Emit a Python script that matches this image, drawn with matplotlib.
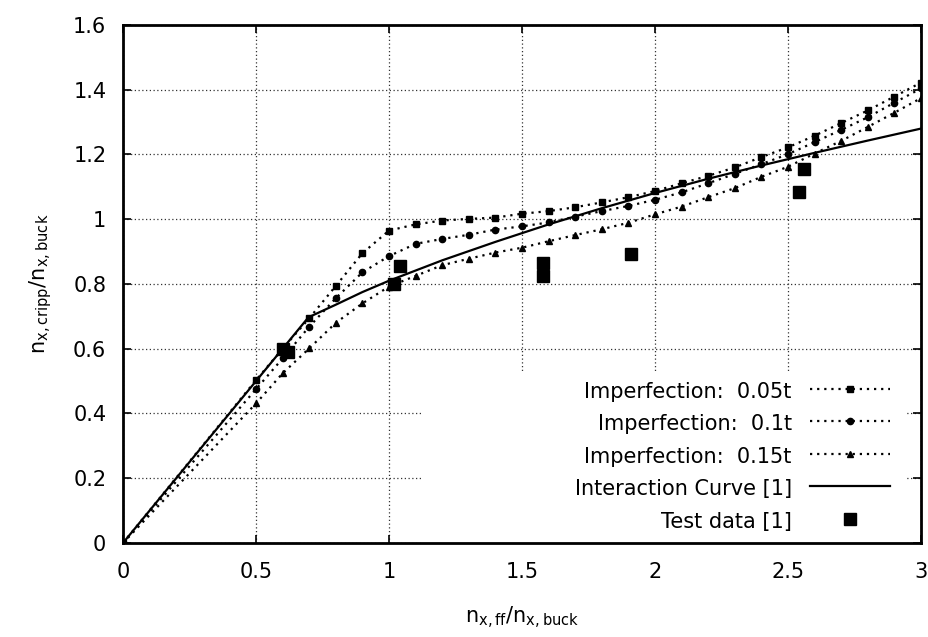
import matplotlib
matplotlib.use("Agg")
import matplotlib.pyplot as plt
from matplotlib.ticker import FuncFormatter
from matplotlib.patches import Rectangle

# ---- data ----
x_fe = [0, 0.5, 0.6, 0.7, 0.8, 0.9, 1.0, 1.1, 1.2, 1.3, 1.4, 1.5, 1.6, 1.7,
        1.8, 1.9, 2.0, 2.1, 2.2, 2.3, 2.4, 2.5, 2.6, 2.7, 2.8, 2.9, 3.0]
y_imp005 = [0, 0.503, 0.600, 0.694, 0.794, 0.895, 0.965, 0.984, 0.996, 1.001,
            1.005, 1.017, 1.025, 1.037, 1.052, 1.068, 1.087, 1.111, 1.134,
            1.160, 1.192, 1.222, 1.258, 1.297, 1.336, 1.379, 1.422]
y_imp010 = [0, 0.475, 0.570, 0.668, 0.756, 0.836, 0.886, 0.924, 0.939, 0.952,
            0.968, 0.978, 0.990, 1.008, 1.025, 1.041, 1.060, 1.083, 1.111,
            1.140, 1.170, 1.201, 1.238, 1.276, 1.315, 1.360, 1.404]
y_imp015 = [0, 0.431, 0.524, 0.601, 0.680, 0.740, 0.792, 0.825, 0.858, 0.878,
            0.897, 0.912, 0.932, 0.951, 0.969, 0.989, 1.015, 1.039, 1.068,
            1.096, 1.131, 1.162, 1.203, 1.242, 1.285, 1.329, 1.374]

x_curve = [0, 0.5, 0.697, 0.8, 0.9, 1.0, 1.2, 1.4, 1.6, 1.8, 2.0, 2.2, 2.4,
           2.6, 2.8, 3.0]
y_curve = [0, 0.5, 0.697, 0.736, 0.775, 0.81, 0.873, 0.930, 0.984, 1.034,
           1.081, 1.125, 1.166, 1.205, 1.243, 1.28]

x_test = [0.60, 0.62, 1.02, 1.04, 1.58, 1.58, 1.91, 2.54, 2.56]
y_test = [0.600, 0.590, 0.800, 0.856, 0.864, 0.824, 0.892, 1.083, 1.154]

labels = ["Imperfection:  0.05t", "Imperfection:  0.1t", "Imperfection:  0.15t",
          "Interaction Curve [1]", "Test data [1]"]
xticks = [0, 0.5, 1, 1.5, 2, 2.5, 3]
yticks = [0, 0.2, 0.4, 0.6, 0.8, 1.0, 1.2, 1.4, 1.6]

# ---- style ----
plt.rcParams["font.family"] = ["DejaVu Sans"]
plt.rcParams["mathtext.fontset"] = "dejavusans"
FS = 15

fig = plt.figure(figsize=(9.29, 6.37), dpi=100)
ax = fig.add_axes([0.1324, 0.1476, 0.9914 - 0.1324, 0.9608 - 0.1476])

dot = (0, (1, 2.2))
ax.plot(x_fe, y_imp005, color="black", lw=1.6, ls=dot, marker="s", ms=4.5,
        label=labels[0], zorder=3)
ax.plot(x_fe, y_imp010, color="black", lw=1.6, ls=dot, marker="o", ms=4.5,
        label=labels[1], zorder=3)
ax.plot(x_fe, y_imp015, color="black", lw=1.6, ls=dot, marker="^", ms=5,
        label=labels[2], zorder=3)
ax.plot(x_curve, y_curve, color="black", lw=1.6, ls="-", label=labels[3],
        zorder=3)
ax.plot(x_test, y_test, color="black", ls="none", marker="s", ms=8,
        label=labels[4], zorder=4)

ax.set_xlim(0, 3)
ax.set_ylim(0, 1.6)
ax.set_xticks(xticks)
ax.set_yticks(yticks)
fmt = FuncFormatter(lambda v, p: "%g" % round(v, 2))
ax.xaxis.set_major_formatter(fmt)
ax.yaxis.set_major_formatter(fmt)

ax.set_axisbelow(True)
ax.grid(True, color="#333333", ls=(0, (1, 2)), lw=0.9)
# blank area behind key (as in the reference)
ax.add_patch(Rectangle((0.376, 0.0), 0.604, 0.328, transform=ax.transAxes,
                       facecolor="white", edgecolor="none", zorder=1))

for s in ax.spines.values():
    s.set_linewidth(2)
ax.tick_params(direction="in", length=5.5, width=1.2, top=True, right=True,
               labelsize=FS)
ax.tick_params(axis="x", pad=14)
ax.tick_params(axis="y", pad=12)

ax.set_xlabel(r"$\mathregular{n_{x,ff}/n_{x,buck}}$", fontsize=FS, labelpad=16)
ax.set_ylabel(r"$\mathregular{n_{x,cripp}/n_{x,buck}}$", fontsize=FS,
              labelpad=14)

leg = ax.legend(loc="lower right", bbox_to_anchor=(0.975, 0.0),
                frameon=False, markerfirst=False, numpoints=1,
                fontsize=FS, handlelength=3.8, handletextpad=0.9,
                labelspacing=0.6, borderaxespad=0.15)
leg._legend_box.align = "right"
for vp in leg._legend_handle_box.get_children():
    for c in vp.get_children():
        c.align = "right"

fig.savefig("out.png", dpi=100)
